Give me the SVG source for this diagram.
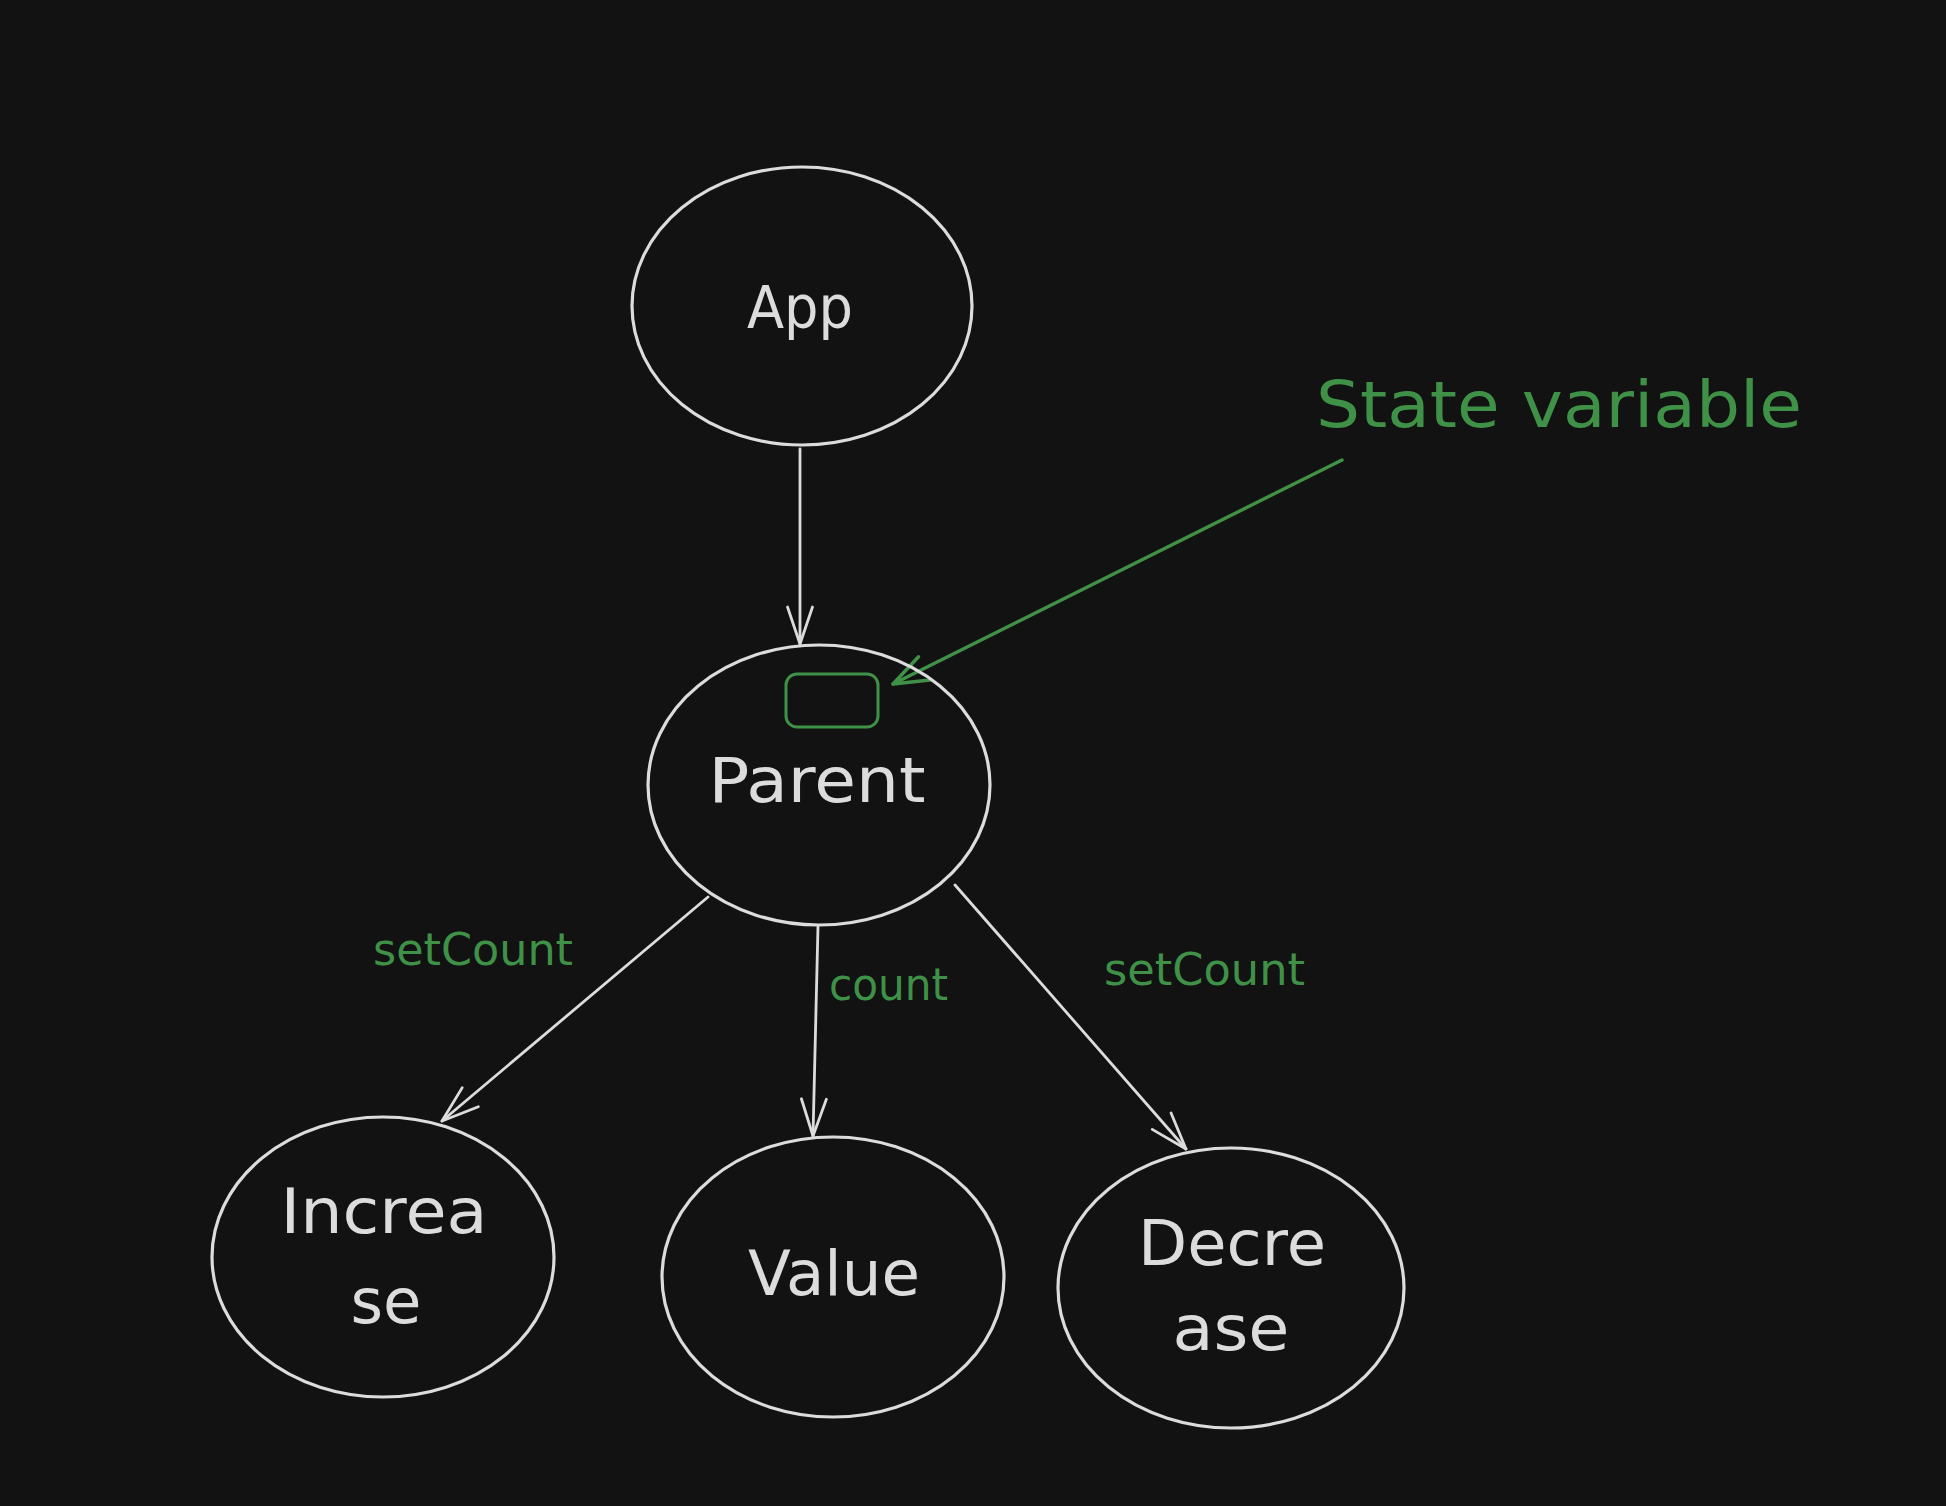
<svg xmlns="http://www.w3.org/2000/svg" width="1946" height="1506" viewBox="0 0 1946 1506">
<defs>
<style>
.node{fill:none;stroke:#dcdcdc;stroke-width:3.2}
.lbl{font-family:"DejaVu Sans","Liberation Sans",sans-serif;font-size:62px;fill:#dcdcdc;text-anchor:middle}
.glbl{font-family:"DejaVu Sans","Liberation Sans",sans-serif;font-size:44px;fill:#3f9147}
.conn{fill:none;stroke:#dcdcdc;stroke-width:2.8;stroke-linecap:round}
.gconn{fill:none;stroke:#3f9147;stroke-width:3.4;stroke-linecap:round}
</style>
<marker id="ah" viewBox="-42 -20 46 40" refX="0" refY="0" markerWidth="46" markerHeight="40" markerUnits="userSpaceOnUse" orient="auto">
<path d="M-37,-12.5 L0,0 L-37,12.5" fill="none" stroke="#dcdcdc" stroke-width="2.8" stroke-linecap="round" stroke-linejoin="round"/>
</marker>
<marker id="gah" viewBox="-42 -20 46 40" refX="0" refY="0" markerWidth="46" markerHeight="40" markerUnits="userSpaceOnUse" orient="auto">
<path d="M-35,-13 L0,0 L-35,13" fill="none" stroke="#3f9147" stroke-width="3.4" stroke-linecap="round" stroke-linejoin="round"/>
</marker>
</defs>
<rect x="0" y="0" width="1946" height="1506" fill="#121212"/>

<g id="connectors">
<path class="conn" d="M800,449 L800,644" marker-end="url(#ah)"/>
<path class="conn" d="M708,897 L442,1121" marker-end="url(#ah)"/>
<path class="conn" d="M818,926 L813,1136" marker-end="url(#ah)"/>
<path class="conn" d="M955,885 L1186,1149" marker-end="url(#ah)"/>
<path class="gconn" d="M1342,460 L893,684" marker-end="url(#gah)"/>
</g>

<g id="node-app">
<ellipse class="node" cx="802" cy="306" rx="170" ry="139"/>
<text class="lbl" x="800" y="328" style="font-size:58px" textLength="106" lengthAdjust="spacingAndGlyphs">App</text>
</g>

<g id="node-parent">
<ellipse class="node" cx="819" cy="785" rx="171" ry="140"/>
<rect x="786" y="674" width="92" height="53" rx="11" fill="none" stroke="#3f9147" stroke-width="3"/>
<text class="lbl" x="817" y="802" textLength="217" lengthAdjust="spacingAndGlyphs">Parent</text>
</g>

<g id="node-increase">
<ellipse class="node" cx="383" cy="1257" rx="171" ry="140"/>
<text class="lbl" x="384" y="1233" textLength="207" lengthAdjust="spacingAndGlyphs">Increa</text>
<text class="lbl" x="386" y="1323" textLength="71" lengthAdjust="spacingAndGlyphs">se</text>
</g>

<g id="node-value">
<ellipse class="node" cx="833" cy="1277" rx="171" ry="140"/>
<text class="lbl" x="834" y="1295" textLength="172" lengthAdjust="spacingAndGlyphs">Value</text>
</g>

<g id="node-decrease">
<ellipse class="node" cx="1231" cy="1288" rx="173" ry="140"/>
<text class="lbl" x="1232" y="1265" textLength="188" lengthAdjust="spacingAndGlyphs">Decre</text>
<text class="lbl" x="1231" y="1350" textLength="117" lengthAdjust="spacingAndGlyphs">ase</text>
</g>

<g id="labels">
<text class="glbl" x="1316" y="427" style="font-size:64px" textLength="486" lengthAdjust="spacingAndGlyphs">State variable</text>
<text class="glbl" x="373" y="965" textLength="200" lengthAdjust="spacingAndGlyphs">setCount</text>
<text class="glbl" x="829" y="1000" textLength="119" lengthAdjust="spacingAndGlyphs">count</text>
<text class="glbl" x="1104" y="985" textLength="201" lengthAdjust="spacingAndGlyphs">setCount</text>
</g>
</svg>
